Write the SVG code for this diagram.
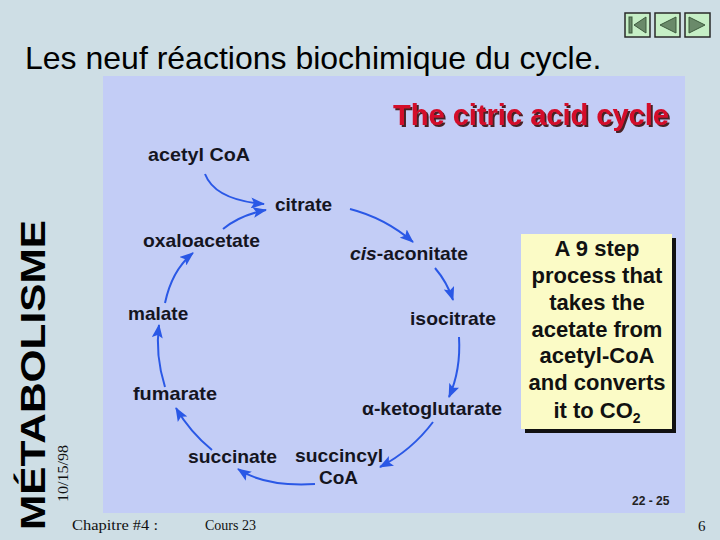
<svg xmlns="http://www.w3.org/2000/svg" width="720" height="540" viewBox="0 0 720 540">
<defs>
<style>
.lbl{font-family:"Liberation Sans",Arial,sans-serif;font-weight:bold;font-size:19px;fill:#15151f}
.box{font-family:"Liberation Sans",Arial,sans-serif;font-weight:bold;font-size:22px;fill:#111;text-anchor:middle}
.foot{font-family:"Liberation Serif","Times New Roman",serif;font-size:15px;fill:#111}
.arr{fill:none;stroke:#2a58e6;stroke-width:2;marker-end:url(#ah)}
.btn{fill:#c6efc6;stroke:#2a2a2a;stroke-width:1.5}
.sym{fill:#6a8a6a;stroke:#3d5a3d;stroke-width:1}
</style>
<filter id="sh" x="-5%" y="-20%" width="110%" height="140%">
<feDropShadow dx="2" dy="2" stdDeviation="0.6" flood-color="#3a1010" flood-opacity="0.9"/>
</filter>
<marker id="ah" markerWidth="15" markerHeight="11" refX="13" refY="5.5" orient="auto" markerUnits="userSpaceOnUse">
<path d="M0,0 L14,5.5 L0,11 L3,5.5 Z" fill="#2a58e6"/>
</marker>
</defs>
<rect x="0" y="0" width="720" height="540" fill="#cedee5"/>
<g id="nav">
<rect class="btn" x="625" y="13" width="25" height="24"/>
<rect class="sym" x="629" y="17" width="3" height="16"/>
<polygon class="sym" points="646,17 634,25 646,33"/>
<rect class="btn" x="655" y="13" width="25" height="24"/>
<polygon class="sym" points="676,17 660,25 676,33"/>
<rect class="btn" x="685" y="13" width="25" height="24"/>
<polygon class="sym" points="689,17 705,25 689,33"/>
</g>
<rect x="103" y="76" width="582" height="437" fill="#c3cdf6"/>
<text x="25" y="69" font-family="'Liberation Sans',Arial,sans-serif" font-size="32" fill="#000">Les neuf réactions biochimique du cycle.</text>
<text transform="translate(45,530) rotate(-90)" font-family="'Liberation Sans',Arial,sans-serif" font-weight="bold" font-size="35" fill="#000" textLength="310" lengthAdjust="spacingAndGlyphs">MÉTABOLISME</text>
<text transform="translate(68,502) rotate(-90)" class="foot" textLength="57" lengthAdjust="spacingAndGlyphs">10/15/98</text>
<text x="72" y="530" class="foot" textLength="86" lengthAdjust="spacingAndGlyphs">Chapitre #4 :</text>
<text x="205" y="530" class="foot" textLength="51" lengthAdjust="spacingAndGlyphs">Cours 23</text>
<text x="698" y="531" class="foot">6</text>
<g id="title">
<text x="393" y="125" font-family="'Liberation Sans',Arial,sans-serif" font-weight="bold" font-size="29" fill="#d4102c" textLength="276" lengthAdjust="spacingAndGlyphs" filter="url(#sh)">The citric acid cycle</text>
</g>
<g id="connectors">
<path class="arr" d="M205,174 Q215,200 264,204"/>
<path class="arr" d="M223,229 Q240,215 266,210"/>
<path class="arr" d="M350,209 Q385,218 413,242"/>
<path class="arr" d="M435,268 Q447,282 453,300"/>
<path class="arr" d="M459,337 Q461,370 449,397"/>
<path class="arr" d="M433,422 Q412,450 380,467"/>
<path class="arr" d="M315,484 Q265,487 238,469"/>
<path class="arr" d="M212,450 Q190,432 176,408"/>
<path class="arr" d="M165,387 Q155,355 159,325"/>
<path class="arr" d="M165,303 Q172,270 193,253"/>
</g>
<g id="acetylcoa"><text class="lbl" x="148" y="161" textLength="102" lengthAdjust="spacingAndGlyphs">acetyl CoA</text></g>
<g id="citrate"><text class="lbl" x="275" y="211">citrate</text></g>
<g id="oxaloacetate"><text class="lbl" x="143" y="247" textLength="117" lengthAdjust="spacingAndGlyphs">oxaloacetate</text></g>
<g id="cisaconitate"><text class="lbl" x="350" y="260" textLength="118" lengthAdjust="spacingAndGlyphs"><tspan font-style="italic">cis</tspan>-aconitate</text></g>
<g id="malate"><text class="lbl" x="128" y="320">malate</text></g>
<g id="isocitrate"><text class="lbl" x="410" y="325" textLength="86" lengthAdjust="spacingAndGlyphs">isocitrate</text></g>
<g id="fumarate"><text class="lbl" x="133" y="400" textLength="84" lengthAdjust="spacingAndGlyphs">fumarate</text></g>
<g id="ketoglutarate"><text class="lbl" x="362" y="415" textLength="140" lengthAdjust="spacingAndGlyphs">α-ketoglutarate</text></g>
<g id="succinylcoa"><text class="lbl" x="295" y="462" textLength="88" lengthAdjust="spacingAndGlyphs">succincyl</text><text class="lbl" x="319" y="484">CoA</text></g>
<g id="succinate"><text class="lbl" x="188" y="463" textLength="89" lengthAdjust="spacingAndGlyphs">succinate</text></g>
<g id="note">
<rect x="525" y="238" width="151" height="195" fill="#111"/>
<rect x="521" y="234" width="151" height="195" fill="#fbfbc6"/>
<text class="box" x="597" y="256">A 9 step</text>
<text class="box" x="597" y="283">process that</text>
<text class="box" x="597" y="310">takes the</text>
<text class="box" x="597" y="337">acetate from</text>
<text class="box" x="597" y="363">acetyl-CoA</text>
<text class="box" x="597" y="390">and converts</text>
<text class="box" x="597" y="418">it to CO<tspan font-size="14" dy="5">2</tspan></text>
</g>
<text x="632" y="505" font-family="'Liberation Sans',Arial,sans-serif" font-weight="bold" font-size="12" fill="#222">22 - 25</text>
</svg>
